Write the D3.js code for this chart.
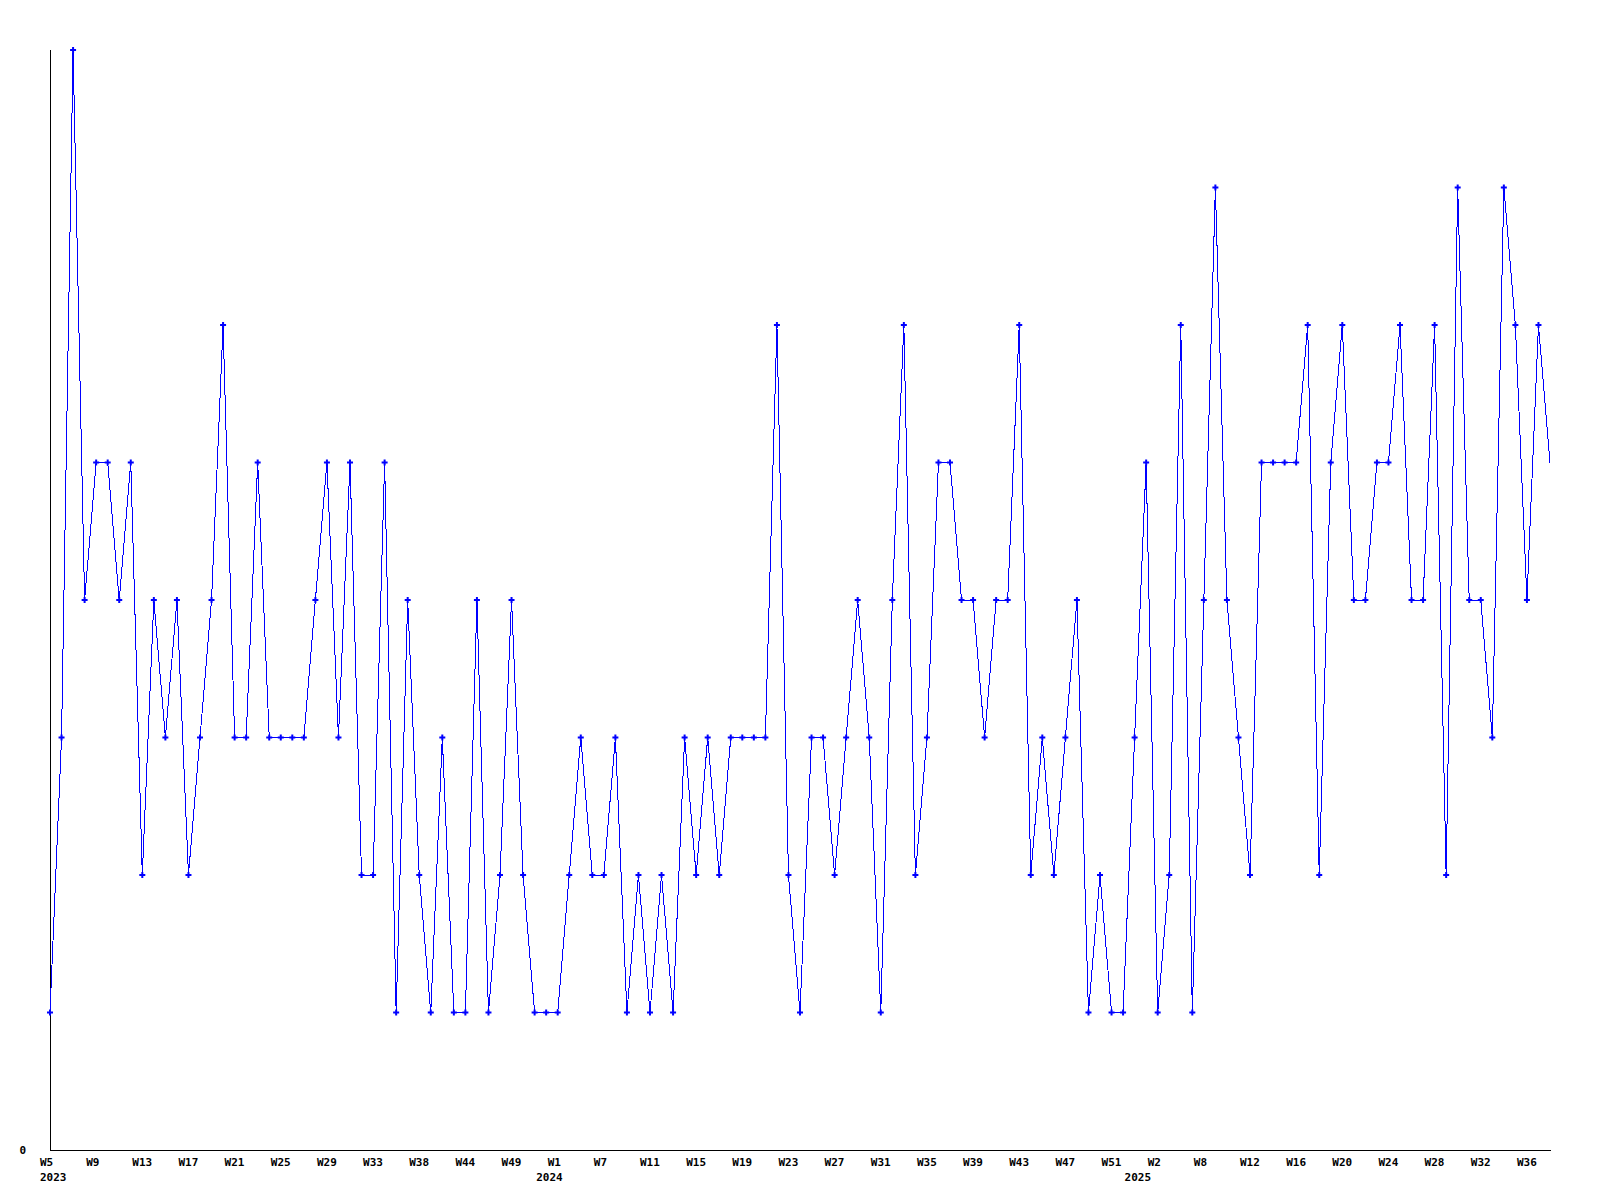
<!DOCTYPE html>
<html>
<head>
<meta charset="utf-8">
<script src="https://cdn.jsdelivr.net/npm/d3@7"></script>
<style>
  body { margin: 0; background: #fff; }
  text { font-family: "DejaVu Sans Mono", monospace; font-weight: bold; font-size: 11px; fill: #000; }
</style>
</head>
<body>
<svg width="1600" height="1200"></svg>
<script>
// weeks present in the data, per year
const weeks2023 = [5, 6, 7, 8, 9, 10, 11, 12, 13, 14, 15, 16, 17, 18, 19, 20, 21, 22, 23, 24, 25, 26, 27, 28,
  29, 30, 31, 32, 33, 34, 35, 36, 38, 39, 41, 43, 44, 45, 46, 48, 49, 50, 51, 52]
const weeks2024 = [1, 2, 4, 6, 7, 8, 9, 10, 11, 12, 13, 14, 15, 16, 17, 18, 19, 20, 21, 22, 23, 24, 25, 26, 27,
  28, 29, 30, 31, 32, 33, 34, 35, 36, 37, 38, 39, 40, 41, 42, 43, 44, 45, 46, 47, 48, 49, 50, 51, 52]
const weeks2025 = [0, 1, 2, 3, 5, 7, 8, 9, 10, 11, 12, 13, 14, 15, 16, 17, 18, 19, 20, 21, 22, 23, 24, 25, 26,
  27, 28, 29, 30, 31, 32, 33, 34, 35, 36, 37, 38]

const values = [
  1, 3, 8, 4, 5, 5, 4, 5, 2, 4,
  3, 4, 2, 3, 4, 6, 3, 3, 5, 3,
  3, 3, 3, 4, 5, 3, 5, 2, 2, 5,
  1, 4, 2, 1, 3, 1, 1, 4, 1, 2,
  4, 2, 1, 1, 1, 2, 3, 2, 2, 3,
  1, 2, 1, 2, 1, 3, 2, 3, 2, 3,
  3, 3, 3, 6, 2, 1, 3, 3, 2, 3,
  4, 3, 1, 4, 6, 2, 3, 5, 5, 4,
  4, 3, 4, 4, 6, 2, 3, 2, 3, 4,
  1, 2, 1, 1, 3, 5, 1, 2, 6, 1,
  4, 7, 4, 3, 2, 5, 5, 5, 5, 6,
  2, 5, 6, 4, 4, 5, 5, 6, 4, 4,
  6, 2, 7, 4, 4, 3, 7, 6, 4, 6, 5
]

// year labels sit under the point where the year changes
const yearLabels = [
  { index: 0, label: '2023' },
  { index: 43, label: '2024' },
  { index: 94, label: '2025' }
]

const yTickLabels = [0]
const labelEvery = 4

const categories = weeks2023.map(w => 'W' + w)
  .concat(weeks2024.map(w => 'W' + w))
  .concat(weeks2025.map(w => 'W' + w))

const data = values.map((v, i) => ({ i: i, week: categories[i], value: v }))

const svg = d3.select('svg')
const margin = { top: 50, right: 50, bottom: 50, left: 50 }
const width = svg.attr('width') - margin.left - margin.right
const height = svg.attr('height') - margin.top - margin.bottom

const g = svg.append('g')
  .attr('transform', 'translate(' + margin.left + ',' + margin.top + ')')

const x = d3.scalePoint()
  .domain(d3.range(data.length))
  .range([0, width])

const y = d3.scaleLinear()
  .domain([0, 8])
  .range([height, 0])

// axes: plain lines, no ticks
g.append('line')
  .attr('x1', 0.5).attr('x2', 0.5)
  .attr('y1', 0).attr('y2', height)
  .attr('stroke', '#000')
g.append('line')
  .attr('x1', 0).attr('x2', width + 1)
  .attr('y1', height + 0.5).attr('y2', height + 0.5)
  .attr('stroke', '#000')

g.selectAll('.ylabel')
  .data(yTickLabels)
  .enter()
  .append('text')
  .attr('class', 'ylabel')
  .attr('x', -24)
  .attr('y', d => y(d) + 4)
  .attr('text-anchor', 'end')
  .text(d => d)

g.selectAll('.xlabel')
  .data(data.filter(d => d.i % labelEvery === 0))
  .enter()
  .append('text')
  .attr('class', 'xlabel')
  .attr('x', d => x(d.i) - 10)
  .attr('y', height + 16)
  .text(d => d.week)

g.selectAll('.year')
  .data(yearLabels)
  .enter()
  .append('text')
  .attr('class', 'year')
  .attr('x', d => x(d.index) - 10)
  .attr('y', height + 31)
  .text(d => d.label)

const line = d3.line()
  .x(d => x(d.i))
  .y(d => y(d.value))

g.append('path')
  .datum(data)
  .attr('fill', 'none')
  .attr('stroke', '#0000ff')
  .attr('stroke-width', 1)
  .attr('shape-rendering', 'crispEdges')
  .attr('d', line)

// markers on every point but the last (current, incomplete week)
g.selectAll('.dot')
  .data(data.slice(0, -1))
  .enter()
  .append('path')
  .attr('class', 'dot')
  .attr('d', d3.symbol(d3.symbolCross).size(20))
  .attr('transform', d => 'translate(' + x(d.i) + ',' + y(d.value) + ')')
  .attr('fill', '#0000ff')
</script>
</body>
</html>
